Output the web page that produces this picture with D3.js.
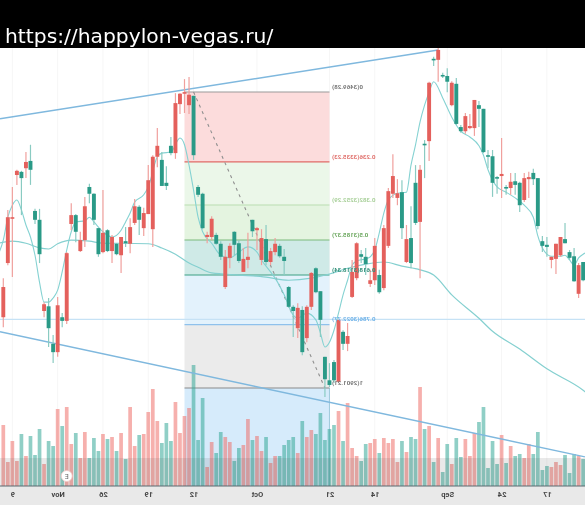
<!DOCTYPE html>
<html>
<head>
<meta charset="utf-8">
<script src="https://cdn.jsdelivr.net/npm/d3@7"></script>
<style>
  html, body { margin: 0; padding: 0; background: #fff; overflow: hidden; }
  svg { display: block; filter: blur(0.45px); }
</style>
</head>
<body>
<svg id="chart" width="585" height="505"></svg>
<script>
// the picture is a mirrored candlestick chart, time runs right to left
const opens = [3095,3229,3229,3318,3304,3335,3320,3224,3158,3062,3016,2970,3060,3030,3160,3233,3201,3185,3250,3274,3224,3158,3199,3164,3191,3158,3191,3179,3210,3250,3224,3237,3300,3345,3366,3289,3289,3352,3448,3466,3469,3464,3348,3272,3208,3195,3226,3178,3153,3153,3174,3176,3145,3149,3153,3202,3208,3189,3143,3164,3178,3154,3145,3057,3049,3055,2970,3057,3122,3085,3032,2918,2907,2916,3032,2986,3001,3124,3179,3153,3139,3108,3174,3085,3208,3279,3308,3275,3208,3187,3141,3218,3320,3368,3487,3531,3550,3500,3489,3487,3408,3394,3423,3404,3454,3437,3354,3345,3295,3304,3312,3285,3297,3291,3252,3304,3306,3302,3212,3174,3172,3153,3178,3191,3179,3151,3106,3137,3108];
const closes = [3037,3141,3226,3310,3316,3323,3337,3241,3224,3049,3058,2986,2970,3037,3030,3216,3233,3164,3185,3287,3274,3208,3162,3204,3164,3178,3156,3183,3178,3218,3249,3208,3235,3206,3345,3339,3295,3366,3352,3446,3466,3444,3462,3287,3274,3191,3191,3195,3178,3095,3151,3201,3179,3124,3147,3224,3204,3147,3187,3143,3162,3174,3153,3095,3057,3016,3051,2997,3057,3131,3087,2961,2916,2951,2913,3009,2986,3076,3112,3158,3153,3101,3108,3118,3093,3174,3274,3266,3277,3143,3189,3295,3220,3370,3375,3533,3531,3502,3500,3444,3485,3402,3394,3400,3400,3444,3437,3348,3346,3306,3308,3287,3285,3298,3295,3262,3302,3314,3304,3183,3176,3147,3149,3156,3187,3162,3154,3082,3143];
const highs = [3112,3243,3287,3320,3318,3354,3368,3245,3245,3066,3074,3003,3076,3045,3162,3256,3235,3201,3268,3293,3275,3208,3281,3206,3195,3179,3191,3210,3227,3264,3252,3247,3329,3348,3400,3354,3327,3383,3467,3467,3494,3498,3462,3291,3276,3201,3231,3199,3183,3166,3179,3202,3185,3170,3199,3224,3210,3206,3214,3170,3189,3178,3168,3097,3060,3064,3058,3060,3124,3133,3087,2961,2949,2955,3032,3012,3026,3147,3181,3166,3170,3128,3189,3128,3214,3285,3350,3302,3300,3214,3250,3329,3329,3377,3489,3537,3554,3506,3515,3490,3496,3406,3429,3427,3454,3452,3437,3358,3358,3308,3381,3291,3314,3314,3297,3314,3316,3322,3304,3193,3191,3153,3178,3191,3218,3166,3170,3141,3143];
const lows = [3018,3137,3114,3291,3233,3304,3291,3216,3141,3037,2980,2949,2961,3018,3024,3204,3181,3162,3172,3256,3214,3153,3160,3162,3141,3156,3122,3172,3160,3214,3195,3193,3235,3172,3325,3289,3281,3348,3341,3427,3429,3427,3339,3268,3206,3179,3185,3176,3147,3091,3131,3156,3141,3124,3131,3191,3166,3137,3137,3137,3156,3151,3118,3055,2999,2997,2964,2989,3051,3083,2999,2884,2903,2911,2911,2974,2972,3074,3108,3141,3118,3095,3099,3082,3089,3170,3266,3252,3187,3141,3131,3214,3112,3304,3337,3519,3489,3496,3469,3442,3406,3391,3389,3398,3385,3402,3352,3323,3268,3274,3266,3272,3272,3272,3239,3258,3266,3291,3206,3162,3153,3131,3120,3153,3179,3147,3105,3074,3106];
const volumes = [61,24,45,25,52,30,50,31,57,22,45,40,77,60,79,42,53,28,54,28,48,35,52,47,49,35,53,27,79,40,51,52,74,97,65,43,63,45,84,53,70,78,121,46,88,19,44,33,54,49,44,25,38,41,67,46,50,35,49,23,30,30,41,46,49,33,65,49,56,52,73,46,57,61,75,45,83,38,30,25,42,43,47,33,48,43,47,24,45,34,49,47,99,57,60,24,48,14,42,22,48,29,47,30,53,64,79,18,45,22,51,23,40,30,32,28,42,32,54,16,20,19,24,21,31,13,32,30,27];

// moving averages, read at the candles where the curve bends
const fastIdx = [-1,0,1,2,3,4,5,6,7,8,9,10,11,12,13,14,15,16,18,19,20,22,24,26,27,28,29,31,32,34,35,37,39,40,41,42,43,44,46,48,50,52,54,56,57,59,60,62,64,65,67,69,70,71,72,73,74,75,76,77,78,80,81,82,83,84,85,87,89,90,91,92,93,94,95,97,99,101,103,105,106,107,109,111,113,115,117,118,119,121,123,124,125,126,127,128,129];
const fastVals = [3160,3185,3229,3252,3262,3243,3214,3191,3156,3104,3066,3066,3074,3089,3124,3166,3201,3220,3222,3229,3220,3201,3191,3204,3220,3237,3258,3272,3287,3345,3352,3354,3381,3368,3329,3281,3229,3201,3179,3156,3151,3162,3172,3162,3147,3124,3112,3080,3041,3035,3045,3032,3007,2980,2989,3012,3045,3080,3108,3137,3145,3149,3153,3166,3199,3237,3262,3275,3277,3329,3368,3412,3444,3469,3489,3458,3421,3394,3383,3366,3348,3320,3287,3277,3266,3252,3229,3193,3170,3154,3154,3156,3147,3137,3151,3158,3162];
const slowIdx = [-1,2,5,8,10,12,15,19,22,26,32,35,38,41,43,46,52,58,63,68,72,76,80,84,88,92,95,99,105,108,114,120,128,129];
const slowVals = [3179,3183,3179,3170,3168,3178,3185,3183,3179,3179,3178,3170,3158,3141,3133,3122,3118,3114,3108,3112,3120,3131,3139,3143,3135,3128,3118,3080,3035,3010,2976,2938,2897,2890];

const fibLevels = [0, 0.236, 0.382, 0.5, 0.618, 0.786, 1];
const fibPrices = [3469.28, 3335.23, 3252.29, 3185.37, 3118.34, 3022.77, 2901.21];
const fibLineColors = ['#999999', '#e06a66', '#b9ddb0', '#7cb97c', '#3a9f82', '#8fc1ec', '#8a8a8a'];
const fibFillColors = ['#fcdcdc', '#ebf7e9', '#e4f4e0', '#cfeae7', '#e3f2fc', '#ebebeb'];
const fibTextColors = ['#777777', '#e0706c', '#a9d09a', '#6da860', '#2e8f78', '#6fb2e8', '#777777'];

const tickIdx = [2, 12, 22, 32, 42, 56, 72, 82, 98, 110, 120];
const tickLabels = ['9', 'Nov', '26', '19', '12', 'Oct', '21', '14', 'Sep', '24', '17'];

const red = '#e4605c';
const teal = '#2a9a87';

const svg = d3.select('#chart');
const width = 585;
const height = 505;
const bottom = 486;

const x = d3.scaleLinear().domain([0, 128]).range([3.3, 583.14]);
const y = d3.scaleLinear().domain([2901.21, 3469.28]).range([388, 92]);
const v = d3.scaleLinear().domain([0, 100]).range([bottom, bottom - 100]);

const bodyW = 3.9;
const barW = 3.7;

svg.append('defs').append('clipPath').attr('id', 'plot')
  .append('rect').attr('x', 0).attr('y', 48).attr('width', width).attr('height', bottom - 48);

const plot = svg.append('g').attr('clip-path', 'url(#plot)');

plot.append('rect').attr('width', width).attr('height', height).attr('fill', '#fff');

// faint grid
plot.append('g').selectAll('line').data(tickIdx).enter().append('line')
  .attr('x1', d => x(d)).attr('x2', d => x(d))
  .attr('y1', 48).attr('y2', bottom)
  .attr('stroke', '#f6f6f6');

// fib retracement bands
const fibLeft = x(40);
const fibRight = x(72);
const fibPrice = lvl => fibPrices[0] - lvl * (fibPrices[0] - fibPrices[6]);

plot.append('g').selectAll('rect').data(fibFillColors).enter().append('rect')
  .attr('x', fibLeft)
  .attr('width', fibRight - fibLeft)
  .attr('y', (d, i) => y(fibPrice(fibLevels[i])))
  .attr('height', (d, i) => y(fibPrice(fibLevels[i + 1])) - y(fibPrice(fibLevels[i])))
  .attr('fill', d => d);

// extension below level 1 runs under the volume
plot.append('rect')
  .attr('x', fibLeft)
  .attr('width', fibRight - fibLeft)
  .attr('y', y(fibPrice(1)))
  .attr('height', y(fibPrice(1.618)) - y(fibPrice(1)))
  .attr('fill', '#d6ebfb');

plot.append('line')
  .attr('x1', fibRight).attr('x2', fibRight)
  .attr('y1', y(fibPrice(1))).attr('y2', y(fibPrice(1.618)))
  .attr('stroke', '#9fc9dc');

plot.append('g').selectAll('line').data(fibLevels).enter().append('line')
  .attr('x1', fibLeft).attr('x2', fibRight)
  .attr('y1', d => y(fibPrice(d))).attr('y2', d => y(fibPrice(d)))
  .attr('stroke', (d, i) => fibLineColors[i])
  .attr('stroke-width', 1.1);

// last price line
plot.append('line')
  .attr('x1', 0).attr('x2', width)
  .attr('y1', y(3033)).attr('y2', y(3033))
  .attr('stroke', '#c6e2f5').attr('stroke-width', 1.1);

// volume
plot.append('g').selectAll('rect').data(volumes).enter().append('rect')
  .attr('x', (d, i) => x(i) - barW / 2)
  .attr('width', barW)
  .attr('y', d => v(d))
  .attr('height', d => bottom - v(d))
  .attr('fill', (d, i) => (closes[i] < opens[i] ? '#ef6f6a' : '#35a898'))
  .attr('fill-opacity', 0.55);

// darker strip over the foot of the volume
plot.append('rect')
  .attr('x', 0).attr('width', width)
  .attr('y', v(28)).attr('height', bottom - v(28))
  .attr('fill', '#555').attr('fill-opacity', 0.13);

// marker on the volume pane
const marker = plot.append('g').attr('transform', 'translate(' + x(14) + ',476)');
marker.append('circle').attr('r', 5.5).attr('fill', '#fff').attr('stroke', '#f0c8c4').attr('stroke-width', 0.8);
marker.append('text').attr('transform', 'scale(-1,1)').attr('y', 2.5)
  .attr('text-anchor', 'middle').attr('font-family', 'Roboto, sans-serif').attr('font-size', 7)
  .attr('fill', '#666').text('E');

// trend channel
const channelX = [-0.73, 96, -0.73, 128.4];
const channelP = [3418, 3550, 3009, 2769];
[0, 2].forEach(k => {
  plot.append('line')
    .attr('x1', x(channelX[k])).attr('y1', y(channelP[k]))
    .attr('x2', x(channelX[k + 1])).attr('y2', y(channelP[k + 1]))
    .attr('stroke', '#7fb8de').attr('stroke-width', 1.5);
});

// fib trend dashed line
plot.append('line')
  .attr('x1', x(42)).attr('y1', y(fibPrices[0]))
  .attr('x2', x(71)).attr('y2', y(fibPrices[6]))
  .attr('stroke', '#8f8f8f').attr('stroke-width', 1.1).attr('stroke-dasharray', '3 4');

// moving averages
const line = d3.line().x(d => x(d[0])).y(d => y(d[1])).curve(d3.curveMonotoneX);
plot.append('path').attr('d', line(d3.zip(slowIdx, slowVals)))
  .attr('fill', 'none').attr('stroke', '#85d0d0').attr('stroke-width', 1.2);
plot.append('path').attr('d', line(d3.zip(fastIdx, fastVals)))
  .attr('fill', 'none').attr('stroke', '#85d2d2').attr('stroke-width', 1.1);

// candles
const candles = plot.append('g').selectAll('g').data(opens).enter().append('g');

candles.append('line')
  .attr('x1', (d, i) => x(i)).attr('x2', (d, i) => x(i))
  .attr('y1', (d, i) => y(highs[i])).attr('y2', (d, i) => y(lows[i]))
  .attr('stroke', (d, i) => (closes[i] < opens[i] ? '#f0a09d' : '#8acbc2'))
  .attr('stroke-width', 1.2);

candles.append('rect')
  .attr('x', (d, i) => x(i) - bodyW / 2)
  .attr('width', bodyW)
  .attr('y', (d, i) => y(Math.max(opens[i], closes[i])))
  .attr('height', (d, i) => Math.max(1.6, Math.abs(y(opens[i]) - y(closes[i]))))
  .attr('fill', (d, i) => (closes[i] < opens[i] ? red : teal));

// mirrored fib labels, sit just above their lines
const labelOffsets = [5, 5, 5, 5, 5, 5.5, 5];
plot.append('g').selectAll('text').data(fibLevels).enter().append('text')
  .attr('transform', (d, i) => 'translate(' + (fibRight + 2.5) + ',' + (y(fibPrice(d)) - labelOffsets[i] + 2) + ') scale(-1,1)')
  .attr('text-anchor', 'end')
  .attr('font-family', 'Roboto, sans-serif')
  .attr('font-size', 6.2)
  .attr('font-weight', 700)
  .attr('fill', (d, i) => fibTextColors[i])
  .text((d, i) => d + '(' + fibPrices[i].toFixed(2) + ')');

// time axis
svg.append('rect').attr('x', 0).attr('y', bottom).attr('width', width).attr('height', height - bottom).attr('fill', '#e9e9e9');
svg.append('line').attr('x1', 0).attr('x2', width).attr('y1', bottom).attr('y2', bottom)
  .attr('stroke', '#5a6a70').attr('stroke-width', 1);

const axis = svg.append('g')
  .attr('transform', 'translate(0,' + bottom + ')')
  .call(d3.axisBottom(x)
    .tickValues(tickIdx)
    .tickSize(0)
    .tickPadding(6)
    .tickFormat((d, i) => tickLabels[i]));
axis.select('.domain').remove();
axis.selectAll('text')
  .attr('transform', 'scale(-1,1)')
  .attr('font-family', 'Roboto, sans-serif')
  .attr('font-size', 7.5)
  .attr('font-weight', 700)
  .attr('fill', '#444');

// banner
svg.append('rect').attr('width', width).attr('height', 48).attr('fill', '#000');
svg.append('text').attr('x', 5).attr('y', 43)
  .attr('font-family', '"DejaVu Sans", sans-serif')
  .attr('font-size', 20.3)
  .attr('fill', '#fff')
  .text('https://happylon-vegas.ru/');
</script>
</body>
</html>
